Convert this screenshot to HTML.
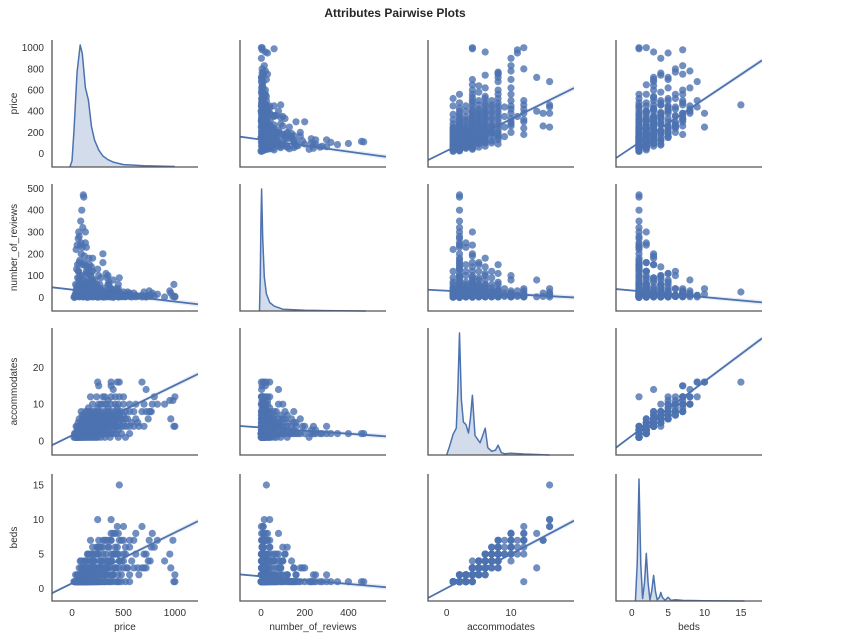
<!DOCTYPE html>
<html><head><meta charset="utf-8"><style>
html,body{margin:0;padding:0;background:#fff;}
svg{display:block;font-family:"Liberation Sans",Arial,sans-serif;}
</style></head><body>
<svg id="fig" width="845" height="642" viewBox="0 0 845 642" xmlns="http://www.w3.org/2000/svg">
<text x="395" y="17" text-anchor="middle" font-size="12" font-weight="bold" fill="#262626">Attributes Pairwise Plots</text>
<g id="plots"></g>
</svg>
<script>
// variables
const varNames = ["price","number_of_reviews","accommodates","beds"];
// records: price, reviews, accommodates, beds
const prices = [];
const reviews = [];
const accoms = [];
const beds = [];
const records = [
[30,5,1,1],[45,40,1,1],[60,120,1,1],[75,10,1,1],[90,60,1,1],[110,2,1,1],[130,25,1,1],[160,8,1,1],[190,3,1,1],[220,15,1,1],[250,1,1,1],[40,220,1,1],[55,90,1,1],
[25,0,2,1],[40,30,2,1],[55,150,2,1],[65,300,2,1],[70,80,2,1],[80,20,2,1],[90,200,2,1],[100,5,2,1],[110,470,2,1],[115,460,2,1],[120,50,2,1],[130,250,2,1],[140,110,2,1],[150,0,2,1],[165,180,2,1],[180,40,2,1],[200,70,2,1],[220,10,2,1],[250,130,2,1],[280,25,2,1],[310,3,2,1],[350,60,2,1],[400,15,2,1],[95,400,2,1],[85,350,2,1],[60,270,2,1],[105,320,2,1],
[70,90,2,2],[120,20,2,2],[190,5,2,2],[35,60,2,2],[160,30,2,2],[240,8,2,2],
[50,10,3,1],[80,60,3,2],[100,150,3,1],[120,30,3,2],[150,5,3,1],[180,100,3,2],[210,15,3,2],[250,40,3,1],[300,2,3,2],[350,20,3,2],[90,250,3,2],[140,230,3,1],[65,120,3,2],[200,70,3,1],
[40,20,4,1],[70,160,4,2],[90,60,4,2],[110,5,4,2],[130,300,4,2],[150,80,4,3],[170,30,4,2],[190,120,4,2],[210,10,4,3],[240,50,4,2],[270,3,4,2],[300,200,4,3],[330,15,4,2],[360,70,4,3],[400,1,4,2],[450,40,4,2],[500,8,4,3],[560,20,4,2],[600,5,4,3],[120,190,4,3],[160,140,4,1],[80,100,4,4],[1000,5,4,2],[990,60,4,1],[280,90,4,3],[50,240,4,2],
[60,10,5,2],[100,50,5,3],[140,120,5,2],[180,5,5,3],[220,80,5,4],[260,20,5,3],[300,160,5,2],[340,3,5,3],[380,40,5,4],[420,10,5,3],[460,90,5,3],[120,150,5,3],[580,2,5,4],[240,60,5,2],
[70,30,6,3],[110,80,6,2],[150,5,6,3],[190,140,6,4],[230,20,6,3],[270,60,6,4],[310,2,6,3],[350,100,6,4],[390,15,6,2],[430,40,6,3],[480,5,6,4],[540,25,6,3],[620,3,6,5],[200,180,6,3],[160,110,6,5],[740,10,6,4],[960,20,6,3],
[100,10,7,3],[160,60,7,4],[220,5,7,5],[280,30,7,3],[340,90,7,4],[400,2,7,5],[460,20,7,4],[200,120,7,6],[250,45,7,5],
[90,20,8,4],[150,70,8,5],[210,3,8,4],[270,40,8,6],[330,110,8,5],[390,10,8,4],[450,60,8,5],[520,5,8,6],[600,20,8,7],[720,2,8,5],[750,30,8,7],[770,10,8,6],[170,150,8,3],[680,10,8,3],[760,5,8,4],
[160,10,9,5],[250,40,9,6],[350,5,9,7],[440,20,9,5],
[200,80,10,5],[300,10,10,6],[380,30,10,7],[450,3,10,8],[560,15,10,7],[700,5,10,5],[780,20,10,8],[900,2,10,4],[260,100,10,6],[830,15,10,7],
[350,10,11,6],[980,5,11,7],[950,30,11,5],
[240,20,12,5],[320,3,12,7],[420,30,12,8],[500,10,12,9],[800,5,12,6],[1000,2,12,1],[180,40,12,7],
[400,80,14,8],[720,3,14,3],[260,5,15,7],[380,20,15,7],[440,10,16,9],[380,15,16,10],[460,25,16,15],[250,40,16,10],[680,2,16,9],
[20,2,1,1],[35,15,1,1],[50,30,1,1],[65,4,1,1],[80,45,1,1],[95,18,1,1],[120,70,1,1],[145,12,1,1],[175,35,1,1],[205,6,1,1],[235,22,1,1],[280,9,1,1],[320,4,1,1],[370,12,1,1],[450,6,1,1],[520,3,1,1],
[30,12,2,1],[45,8,2,1],[50,55,2,1],[62,25,2,1],[75,3,2,1],[88,35,2,1],[98,100,2,1],[108,14,2,1],[125,7,2,1],[135,28,2,1],[145,60,2,1],[155,17,2,1],[170,9,2,1],[185,95,2,1],[195,22,2,1],[210,4,2,1],[230,45,2,1],[260,11,2,1],[295,6,2,1],[330,30,2,1],[375,2,2,1],[430,20,2,1],[480,8,2,1],[560,4,2,1],
[45,130,2,1],[75,170,2,1],[100,230,2,1],[120,160,2,1],[70,280,2,1],[82,240,2,1],[140,140,2,1],
[55,12,3,2],[75,28,3,2],[95,6,3,1],[110,48,3,2],[135,14,3,2],[165,3,3,1],[195,35,3,2],[230,8,3,2],[270,18,3,2],[320,5,3,2],[400,10,3,2],[450,2,3,1],
[60,5,4,2],[85,25,4,2],[100,12,4,2],[125,38,4,2],[140,4,4,2],[180,16,4,2],[200,65,4,2],[225,6,4,2],[255,24,4,2],[290,9,4,3],[315,42,4,2],[345,4,4,3],[380,22,4,2],[420,12,4,3],[480,3,4,2],[530,14,4,3],[650,6,4,2],[700,25,4,3],
[90,8,5,3],[130,22,5,3],[160,40,5,2],[200,12,5,3],[240,5,5,3],[280,35,5,4],[320,15,5,3],[360,60,5,4],[400,7,5,3],[500,12,5,4],[640,6,5,3],
[100,12,6,3],[130,40,6,4],[170,8,6,3],[210,55,6,4],[250,10,6,3],[290,28,6,4],[330,6,6,3],[370,45,6,4],[410,4,6,5],[460,18,6,4],[520,8,6,5],
[120,8,7,4],[190,22,7,4],[260,10,7,5],[320,4,7,4],[380,15,7,5],[440,6,7,6],[500,25,7,5],
[130,5,8,4],[190,18,8,5],[240,8,8,6],[300,25,8,5],[360,5,8,6],[420,30,8,5],[480,12,8,7],[560,8,8,6],
[280,8,10,6],[330,20,10,7],[420,12,10,6],[500,4,10,7],[620,10,10,8],
[300,6,12,7],[380,12,12,8],[460,4,12,7]
];
records.forEach(r=>{prices.push(r[0]);reviews.push(r[1]);accoms.push(r[2]);beds.push(r[3]);});
const columns = [prices, reviews, accoms, beds];

// regression lines: [row][col] -> slope, intercept (y = a + b*x)
const regSlopes = [
 [null, -0.284, 30, 46],
 [-0.0547, null, -1.56, -3.04],
 [0.01363, -0.0042, null, 1.48],
 [0.00736, -0.00277, 0.493, null]
];
const regIntercepts = [
 [null, 132, 25, 57],
 [36, null, 31, 32],
 [1.52, 3.67, null, 1.4],
 [0.76, 1.78, 0.07, null]
];

// KDE curves (x grid, density relative to peak)
const kdePriceX = [-20,0,20,50,80,100,130,160,190,220,260,300,350,400,500,700,1000];
const kdePriceY = [0,0.05,0.3,0.78,1.0,0.93,0.65,0.55,0.33,0.22,0.14,0.09,0.06,0.04,0.02,0.01,0.004];
const kdeRevX = [-7,-3,0,3,8,15,25,40,60,100,200,300,480];
const kdeRevY = [0,0.3,0.75,1.0,0.6,0.28,0.14,0.07,0.04,0.015,0.006,0.003,0];
const kdeAccX = [0,0.5,1,1.5,1.75,2,2.3,2.6,3,3.4,3.7,4,4.4,4.8,5.2,5.6,6,6.4,7,7.6,8,8.5,9,10,12,16];
const kdeAccY = [0,0.08,0.17,0.22,0.55,1.0,0.45,0.27,0.25,0.18,0.3,0.49,0.16,0.13,0.1,0.16,0.22,0.06,0.03,0.04,0.08,0.02,0.01,0.015,0.008,0];
const kdeBedX = [0.5,0.75,1,1.25,1.5,1.75,2,2.25,2.5,2.75,3,3.25,3.5,3.8,4,4.2,4.6,5,5.4,6,7,10,15.5];
const kdeBedY = [0,0.3,1,0.3,0.02,0.15,0.39,0.15,0.01,0.08,0.21,0.08,0.01,0.03,0.07,0.03,0.005,0.03,0.005,0.01,0.005,0.002,0];
const kdeXs = [kdePriceX, kdeRevX, kdeAccX, kdeBedX];
const kdeYs = [kdePriceY, kdeRevY, kdeAccY, kdeBedY];

// axis domains & ticks
const xDomains = [[-194,1224],[-96,572],[-2.9,19.8],[-2.16,17.9]];
const yDomains = [[-127,1073],[-62,520],[-3.8,30.7],[-1.8,16.6]];
const xTickVals = [[0,500,1000],[0,200,400],[0,10],[0,5,10,15]];
const yTickVals = [[0,200,400,600,800,1000],[0,100,200,300,400,500],[0,10,20],[0,5,10,15]];

const NS="http://www.w3.org/2000/svg";
const plots=document.getElementById('plots');
const colLeft=[52,240,428,616], W=146;
const rowTop=[40,184,328,474], H=127;
const BLUE="#4c72b0";
function el(tag,attrs,parent){const e=document.createElementNS(NS,tag);for(const k in attrs)e.setAttribute(k,attrs[k]);(parent||plots).appendChild(e);return e;}
function xScale(c,v){const d=xDomains[c];return colLeft[c]+(v-d[0])/(d[1]-d[0])*W;}
function yScale(r,v){const d=yDomains[r];return rowTop[r]+H-(v-d[0])/(d[1]-d[0])*H;}

const defs=el('defs',{});
for(let r=0;r<4;r++)for(let c=0;c<4;c++){
  const cp=el('clipPath',{id:'cp'+r+c},defs);
  el('rect',{x:colLeft[c],y:rowTop[r],width:W,height:H},cp);
}

for(let r=0;r<4;r++){
  for(let c=0;c<4;c++){
    const g=el('g',{});
    
    
    if(r===c){
      const xs=kdeXs[c], ys=kdeYs[c];
      const base=rowTop[r]+H, top=rowTop[r]+5;
      let pts=[];
      for(let i=0;i<xs.length;i++){pts.push([xScale(c,xs[i]), base-ys[i]*(base-top)]);}
      const line=pts.map((p,i)=>(i?'L':'M')+p[0].toFixed(1)+','+p[1].toFixed(1)).join(' ');
      const area=el('path',{d:line+' L'+pts[pts.length-1][0].toFixed(1)+','+base+' L'+pts[0][0].toFixed(1)+','+base+' Z',fill:BLUE,'fill-opacity':0.25,stroke:'none'},g);
      
      
      const ln=el('path',{d:line,fill:'none',stroke:BLUE,'stroke-width':1.5,'stroke-linejoin':'round'},g);
      
      
    } else {
      const xv=columns[c], yv=columns[r];
      const b=regSlopes[r][c], a=regIntercepts[r][c];
      const d=xDomains[c];
      const band=el('path',{d:'',fill:BLUE,'fill-opacity':0.12,'clip-path':'url(#cp'+r+c+')'},g);
      const x0=d[0], x1=d[1];
      const span=(yDomains[r][1]-yDomains[r][0])*0.02;
      band.setAttribute('d','M'+xScale(c,x0)+','+yScale(r,a+b*x0+span*0.3)+' L'+xScale(c,x1)+','+yScale(r,a+b*x1+span)+' L'+xScale(c,x1)+','+yScale(r,a+b*x1-span)+' L'+xScale(c,x0)+','+yScale(r,a+b*x0-span*0.3)+' Z');
      
      
      for(let i=0;i<xv.length;i++){
        const p=el('circle',{cx:xScale(c,xv[i]).toFixed(1),cy:yScale(r,yv[i]).toFixed(1),r:3.6,fill:BLUE,'fill-opacity':0.8},g);
        
        
      }
      const ln=el('line',{x1:xScale(c,x0),y1:yScale(r,a+b*x0),x2:xScale(c,x1),y2:yScale(r,a+b*x1),stroke:BLUE,'stroke-width':1.8,'clip-path':'url(#cp'+r+c+')'},g);
      
      
    }
    const sp=el('path',{d:'M'+colLeft[c]+','+rowTop[r]+' V'+(rowTop[r]+H)+' H'+(colLeft[c]+W),fill:'none',stroke:'#555','stroke-width':1.3},g);
    
    
  }
}
for(let r=0;r<4;r++){
  yTickVals[r].forEach(v=>{
    const t=el('text',{x:44,y:yScale(r,v)+3.5,'text-anchor':'end','font-size':10,fill:'#333'});
    t.textContent=v;
    
    
  });
  const cy=rowTop[r]+H/2;
  const t=el('text',{x:17,y:cy,'text-anchor':'middle','font-size':10,fill:'#333',transform:'rotate(-90 17 '+cy+')'});
  t.textContent=varNames[r];
  
  
}
for(let c=0;c<4;c++){
  xTickVals[c].forEach(v=>{
    const t=el('text',{x:xScale(c,v),y:616,'text-anchor':'middle','font-size':10,fill:'#333'});
    t.textContent=v;
    
    
  });
  const t=el('text',{x:colLeft[c]+W/2,y:630,'text-anchor':'middle','font-size':10,fill:'#333'});
  t.textContent=varNames[c];
  
  
}
</script>
</body></html>
